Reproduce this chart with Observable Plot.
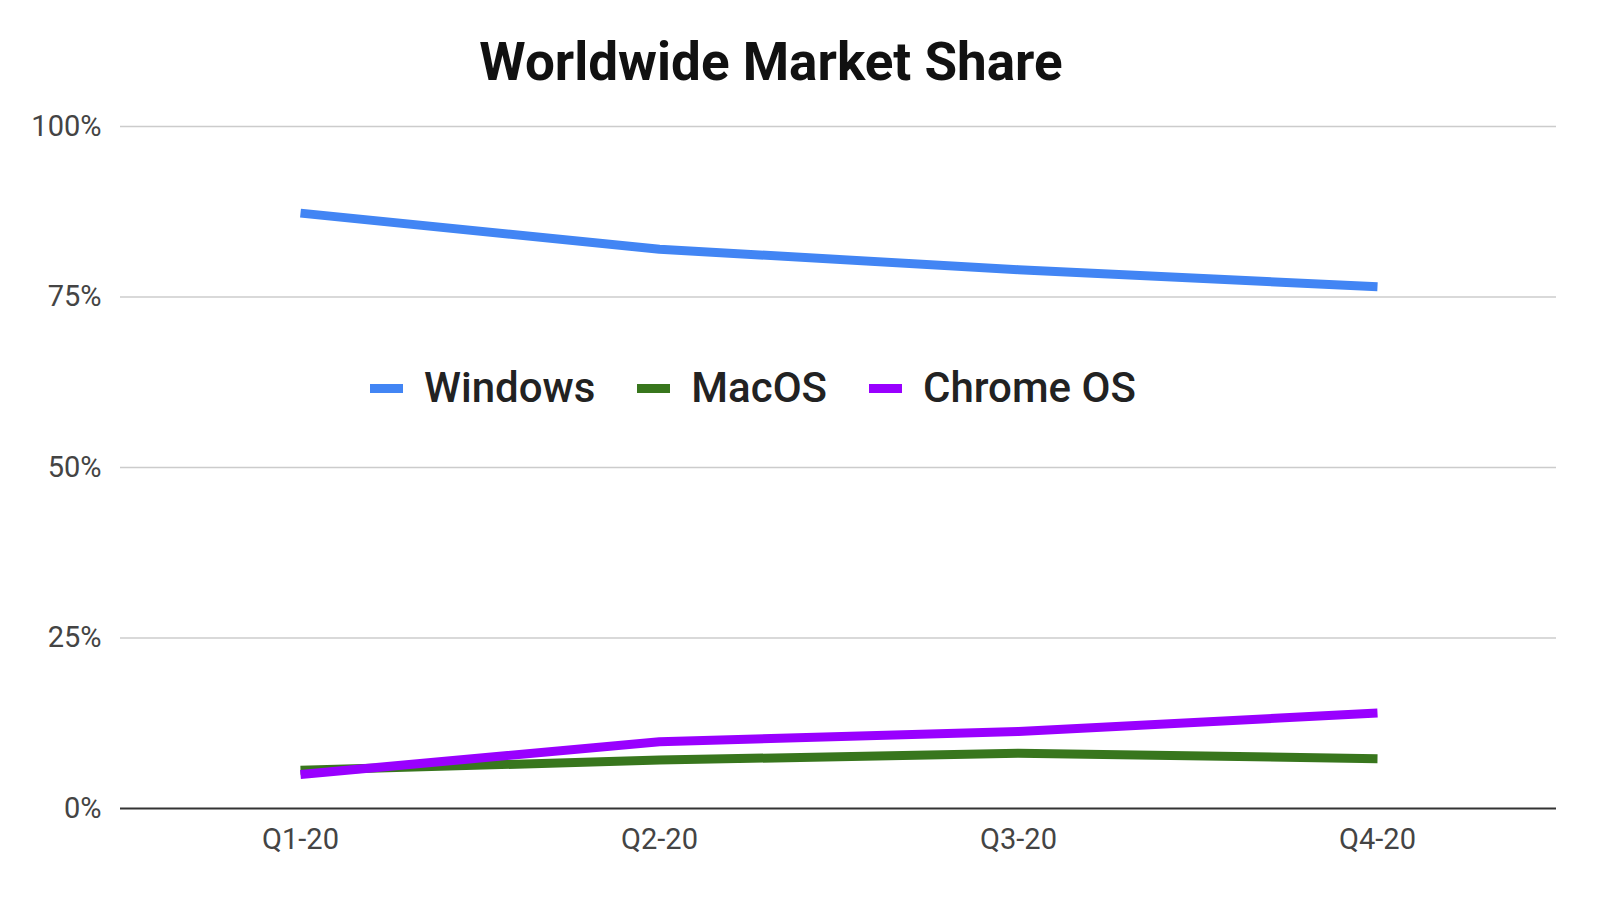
<!DOCTYPE html>
<html>
<head>
<meta charset="utf-8">
<script src="https://cdn.jsdelivr.net/npm/d3@7"></script>
<script src="https://cdn.jsdelivr.net/npm/@observablehq/plot@0.6"></script>
<style>
  html, body { margin: 0; padding: 0; background: #fff; }
  #wrap { position: relative; width: 1600px; height: 900px; font-family: Roboto, "Noto Sans", sans-serif; }
  #title { position: absolute; left: 0; width: 1542px; top: 35px; text-align: center; font-size: 53px; line-height: 54px; font-weight: 700; color: #111; }
  #legend { position: absolute; left: 370px; top: 363px; display: flex; align-items: center; height: 50px; font-size: 42px; line-height: 50px; font-weight: 500; color: #222; }
  .item { display: flex; align-items: center; margin-right: 42px; }
  .sw { width: 33px; height: 9px; margin-right: 21px; }
</style>
</head>
<body>
<div id="wrap">
  <div id="chart"></div>
  <div id="title"></div>
  <div id="legend"></div>
</div>
<script>
const titleText = "Worldwide Market Share";
const quarters = ["Q1-20", "Q2-20", "Q3-20", "Q4-20"];
const seriesNames = ["Windows", "MacOS", "Chrome OS"];
const seriesColors = ["#4285f4", "#38761d", "#9900ff"];
const windowsShare = [87.3, 82.0, 79.0, 76.5];
const macosShare = [5.6, 7.1, 8.1, 7.3];
const chromeShare = [5.0, 9.8, 11.3, 14.0];
const yTicks = [0, 25, 50, 75, 100];

const seriesValues = [windowsShare, macosShare, chromeShare];
const rows = [];
seriesNames.forEach((name, i) => {
  quarters.forEach((q, j) => rows.push({series: name, quarter: q, value: seriesValues[i][j]}));
});

const chart = Plot.plot({
  width: 1600,
  height: 900,
  marginTop: 126,
  marginBottom: 92,
  marginLeft: 120,
  marginRight: 44,
  style: {fontFamily: "Roboto, 'Noto Sans', sans-serif", fontSize: "29px", color: "#444", background: "#fff"},
  x: {type: "point", domain: quarters, padding: 0.5, label: null},
  y: {domain: [0, 100], label: null},
  color: {domain: seriesNames, range: seriesColors},
  marks: [
    Plot.ruleY(yTicks.filter(t => t > 0), {stroke: "#cccccc", strokeWidth: 1.5}),
    Plot.ruleY([0], {stroke: "#333", strokeWidth: 2}),
    Plot.axisY({ticks: yTicks, tickSize: 0, tickPadding: 19, tickFormat: d => d + "%", fill: "#444", label: null}),
    Plot.axisX({tickSize: 0, tickPadding: 20, fill: "#444", label: null}),
    Plot.line(rows, {x: "quarter", y: "value", z: "series", stroke: "series", strokeWidth: 9, strokeLinejoin: "round", strokeLinecap: "butt"})
  ]
});
document.getElementById("chart").appendChild(chart);
document.getElementById("title").textContent = titleText;

const legend = document.getElementById("legend");
seriesNames.forEach((name, i) => {
  const item = document.createElement("div");
  item.className = "item";
  const sw = document.createElement("div");
  sw.className = "sw";
  sw.style.background = seriesColors[i];
  const label = document.createElement("span");
  label.textContent = name;
  item.appendChild(sw);
  item.appendChild(label);
  legend.appendChild(item);
});
</script>
</body>
</html>
